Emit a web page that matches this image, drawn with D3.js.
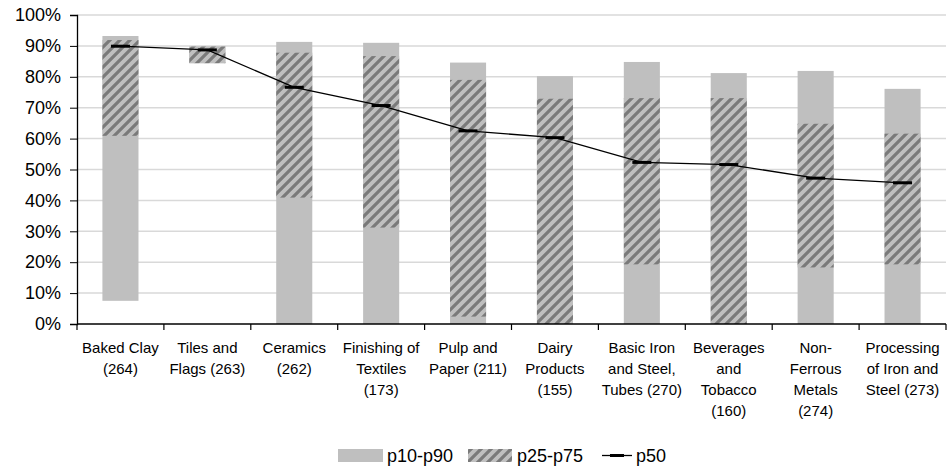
<!DOCTYPE html>
<html><head><meta charset="utf-8">
<script src="https://cdn.jsdelivr.net/npm/d3@7/dist/d3.min.js"></script>
<style>body{margin:0;background:#fff}svg{display:block}text{font-family:"Liberation Sans",Arial,sans-serif;fill:#000}</style>
</head><body><svg id="c" width="948" height="470"></svg>
<script>
const categories = [
  ["Baked Clay","(264)"],
  ["Tiles and","Flags (263)"],
  ["Ceramics","(262)"],
  ["Finishing of","Textiles","(173)"],
  ["Pulp and","Paper (211)"],
  ["Dairy","Products","(155)"],
  ["Basic Iron","and Steel,","Tubes (270)"],
  ["Beverages","and","Tobacco","(160)"],
  ["Non-","Ferrous","Metals","(274)"],
  ["Processing","of Iron and","Steel (273)"]
];
const p10 = [7.5, 84.4, 0, 0, 0, 0, 0, 0, 0, 0];
const p25 = [60.9, 84.4, 40.9, 31.2, 2.4, 0, 19.3, 0, 18.3, 19.3];
const p50 = [89.9, 88.7, 76.6, 70.7, 62.5, 60.3, 52.3, 51.6, 47.2, 45.7];
const p75 = [91.9, 89.8, 87.8, 86.7, 79.0, 72.9, 73.1, 73.1, 64.8, 61.6];
const p90 = [93.2, 89.8, 91.3, 91.0, 84.6, 80.2, 84.8, 81.2, 81.9, 76.1];
const yTicks = [0,10,20,30,40,50,60,70,80,90,100];
const legendLabels = ["p10-p90","p25-p75","p50"];

const svg = d3.select("#c");
const L = 77, R = 946, T = 15, B = 324;
const idx = d3.range(categories.length);
const x = d3.scaleBand().domain(idx).range([L, R]).paddingInner(0.585).paddingOuter(0.2925);
const y = d3.scaleLinear().domain([0,100]).range([B, T]);

const defs = svg.append("defs");
const pat = defs.append("pattern").attr("id","hatch").attr("patternUnits","userSpaceOnUse")
  .attr("width",10).attr("height",10);
pat.append("rect").attr("width",10).attr("height",10).attr("fill","#bfbfbf");
pat.append("path").attr("d","M-3,3 L3,-3 M0,10 L10,0 M7,13 L13,7").attr("stroke","#7a7a7a").attr("stroke-width",3.2);

// gridlines
svg.append("g").selectAll("line").data(yTicks.filter(d=>d>0)).join("line")
  .attr("x1",L).attr("x2",R).attr("y1",d=>y(d)).attr("y2",d=>y(d))
  .attr("stroke","#d9d9d9").attr("stroke-width",1.5);

// y axis
const ya = svg.append("g").attr("transform",`translate(${L},0)`)
  .call(d3.axisLeft(y).tickValues(yTicks).tickFormat(d=>d+"%").tickSize(7).tickPadding(9));
ya.select(".domain").attr("stroke","#000").attr("stroke-width",1.3);
ya.selectAll(".tick line").attr("stroke","#000");
ya.selectAll("text").attr("font-size",18).attr("font-family","Liberation Sans, Arial, sans-serif").attr("fill","#000");

// bars
const g = svg.append("g");
g.selectAll("rect.outer").data(idx).join("rect").attr("class","outer")
  .attr("x",i=>x(i)).attr("width",x.bandwidth())
  .attr("y",i=>y(p90[i])).attr("height",i=>y(p10[i])-y(p90[i])).attr("fill","#bfbfbf");
g.selectAll("rect.inner").data(idx).join("rect").attr("class","inner")
  .attr("x",i=>x(i)).attr("width",x.bandwidth())
  .attr("y",i=>y(p75[i])).attr("height",i=>y(p25[i])-y(p75[i])).attr("fill","url(#hatch)");

// x axis
svg.append("line").attr("x1",L).attr("x2",R).attr("y1",B).attr("y2",B).attr("stroke","#000").attr("stroke-width",1.3);
svg.append("g").selectAll("line").data(d3.range(categories.length+1)).join("line")
  .attr("x1",i=>L+i*(R-L)/categories.length).attr("x2",i=>L+i*(R-L)/categories.length)
  .attr("y1",B).attr("y2",B+6).attr("stroke","#000").attr("stroke-width",1.2);

const cx = i => x(i) + x.bandwidth()/2;
const lab = svg.append("g");
idx.forEach(i=>{
  const t = lab.append("text").attr("text-anchor","middle").attr("font-size",15);
  categories[i].forEach((s,k)=>{
    t.append("tspan").attr("x",cx(i)).attr("y",353+k*21).text(s);
  });
});

// p50 line and markers
svg.append("path").datum(idx).attr("fill","none").attr("stroke","#000").attr("stroke-width",1.3)
  .attr("d",d3.line().x(i=>cx(i)).y(i=>y(p50[i])));
svg.append("g").selectAll("line").data(idx).join("line")
  .attr("x1",i=>cx(i)-9.5).attr("x2",i=>cx(i)+9.5).attr("y1",i=>y(p50[i])).attr("y2",i=>y(p50[i]))
  .attr("stroke","#000").attr("stroke-width",3);

// legend
const lg = svg.append("g");
lg.append("rect").attr("x",338).attr("y",449).attr("width",45).attr("height",13).attr("fill","#bfbfbf");
lg.append("text").attr("x",387).attr("y",462).attr("font-size",18).text(legendLabels[0]);
lg.append("rect").attr("x",468).attr("y",449).attr("width",44).attr("height",13).attr("fill","url(#hatch)");
lg.append("text").attr("x",517).attr("y",462).attr("font-size",18).text(legendLabels[1]);
lg.append("line").attr("x1",602).attr("x2",632).attr("y1",455.5).attr("y2",455.5).attr("stroke","#000").attr("stroke-width",1.3);
lg.append("line").attr("x1",610).attr("x2",624).attr("y1",455.5).attr("y2",455.5).attr("stroke","#000").attr("stroke-width",3);
lg.append("text").attr("x",636).attr("y",462).attr("font-size",18).text(legendLabels[2]);
</script></body></html>
